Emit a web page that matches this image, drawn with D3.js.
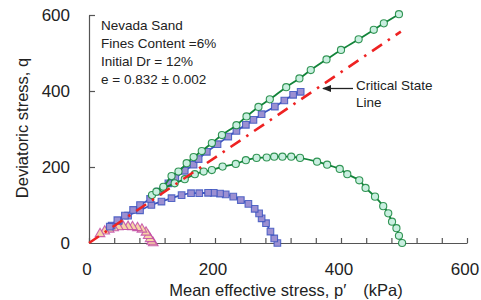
<!DOCTYPE html>
<html><head><meta charset="utf-8">
<script src="https://cdn.jsdelivr.net/npm/d3@7"></script>
<style>body{margin:0;background:#fff}svg{display:block;font-family:"Liberation Sans",Arial,sans-serif}</style>
</head><body>
<svg id="c" width="481" height="300"></svg>
<script>
// Test starting at p' = 500 kPa (green circles)
const test500 = [[497,0],[492,19],[488,39],[481,56],[475,78],[467,97],[454,122],[439,145],[429,165],[410,181],[398,195],[378,206],[362,214],[335,224],[321,227],[307,227],[294,227],[282,225],[266,224],[249,218],[233,208],[212,201],[195,192],[182,188],[168,181],[152,168],[136,157],[118,144],[100,126],[107,135],[118,148],[131,176],[142,188],[155,210],[166,226],[179,242],[195,263],[211,284],[234,310],[250,333],[269,358],[287,378],[313,410],[334,433],[352,455],[377,483],[400,508],[428,536],[452,561],[468,578],[492,602]];
// Test starting at p' = 300 kPa (blue squares)
const test300 = [[299,0],[294,12],[288,30],[281,52],[274,65],[270,78],[263,90],[253,103],[241,113],[229,122],[217,128],[208,130],[198,132],[189,132],[175,131],[162,131],[147,126],[131,118],[115,109],[99,100],[81,86],[62,72],[47,58],[36,46],[33,43],[45,60],[57,72],[70,87],[81,100],[97,116],[110,135],[126,157],[137,171],[152,190],[166,206],[174,221],[187,240],[204,260],[221,280],[234,295],[249,311],[261,324],[274,339],[295,359],[310,375],[324,390],[336,398]];
// Test starting at p' = 100 kPa (pink triangles)
const test100 = [[102,0],[99.5,4],[97,11],[94,19],[90.5,28],[84,36],[77,40],[69,42.5],[62,43],[54.5,43],[46.5,42],[39,39.5],[32,36],[25,31],[17.5,24]];
// Critical state line
const cslP = [0, 495];
const cslM = 1.124;
const xTicks = [0,40,80,120,160,200,240,280,320,360,400,440,480,520,560,600];
const xLabels = [0,200,400,600];
const yTicks = [0,200,400,600];
const infoLines = ["Nevada Sand","Fines Content =6%","Initial Dr = 12%","e = 0.832 \u00b1 0.002"];
const cslLabel = ["Critical State","Line"];

const svg = d3.select("#c");
const x = d3.scaleLinear().domain([0,600]).range([89,467]);
const y = d3.scaleLinear().domain([0,600]).range([243,15]);

// axes
const gx = svg.append("g").attr("transform","translate(0,243)")
  .call(d3.axisBottom(x).tickValues(xTicks).tickSizeInner(-5).tickSizeOuter(0).tickPadding(20)
    .tickFormat(d => xLabels.includes(d) ? d : ""));
const gy = svg.append("g").attr("transform","translate(89,0)")
  .call(d3.axisLeft(y).tickValues(yTicks).tickSizeInner(-6).tickSizeOuter(0).tickPadding(19));
[gx,gy].forEach(g=>{
  g.selectAll("path,line").attr("stroke","#555").attr("stroke-width",1.2);
  g.selectAll("text").attr("font-size",17).attr("fill","#222").attr("font-family","Liberation Sans, Arial, sans-serif");
});
gx.selectAll("text").attr("dx",-2.5);
gy.selectAll(".tick").filter(d=>d===0).select("line").remove();

// axis titles
svg.append("text").attr("x",286).attr("y",296).attr("text-anchor","middle")
  .attr("font-size",16.5).attr("fill","#222").text("Mean effective stress, p\u2032\u3000(kPa)");
svg.append("text").attr("transform","translate(28,128) rotate(-90)").attr("text-anchor","middle")
  .attr("font-size",16.5).attr("fill","#222").text("Deviatoric stress, q");

const line = d3.line().x(d=>x(d[0])).y(d=>y(d[1])).curve(d3.curveCatmullRom.alpha(0.5));

function series(data, color, fill, shape){
  svg.append("path").datum(data).attr("d",line).attr("fill","none").attr("stroke",color).attr("stroke-width",1.8);
  const sym = d3.symbol().type(shape).size(shape===d3.symbolSquare?44:40);
  svg.append("g").selectAll("path").data(data).join("path")
    .attr("transform",d=>`translate(${x(d[0])},${y(d[1])})`)
    .attr("d",sym).attr("fill",fill).attr("stroke",color).attr("stroke-width",1.1).attr("stroke-opacity",0.85);
}
series(test100,"#c24aa6","#f6d4a6",d3.symbolTriangle);
series(test300,"#3d55bf","#9c90d2",d3.symbolSquare);
series(test500,"#13843a","#c9efe0",d3.symbolCircle);

// CSL
svg.append("line").attr("x1",x(cslP[0])).attr("y1",y(cslP[0]*cslM))
  .attr("x2",x(cslP[1])).attr("y2",y(cslP[1]*cslM))
  .attr("stroke","#ee2222").attr("stroke-width",2.6).attr("stroke-dasharray","12,7,2.5,7");

// info text
svg.append("g").selectAll("text").data(infoLines).join("text")
  .attr("x",101).attr("y",(d,i)=>29.5+i*18.3).attr("font-size",13.5).attr("fill","#222").text(d=>d);

// CSL label + arrow
svg.append("g").selectAll("text").data(cslLabel).join("text")
  .attr("x",356).attr("y",(d,i)=>90+i*17).attr("font-size",13.5).attr("fill","#222").text(d=>d);
svg.append("defs").append("marker").attr("id","ah").attr("viewBox","0 0 10 10").attr("refX",9).attr("refY",5)
  .attr("markerWidth",7).attr("markerHeight",7).attr("orient","auto-start-reverse")
  .append("path").attr("d","M0,1 L10,5 L0,9 z").attr("fill","#222");
svg.append("line").attr("x1",353).attr("y1",88.5).attr("x2",323).attr("y2",88.5)
  .attr("stroke","#222").attr("stroke-width",1.3).attr("marker-end","url(#ah)");
</script>
</body></html>
